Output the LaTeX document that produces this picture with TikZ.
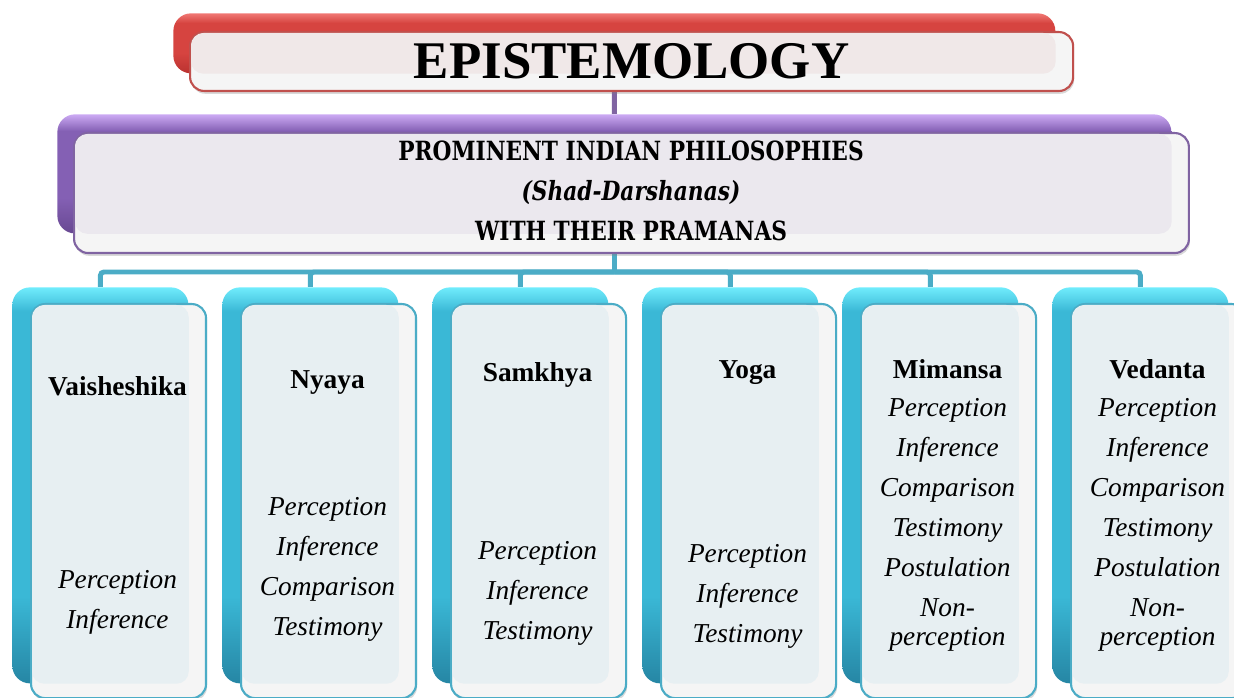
\documentclass[tikz,border=0pt]{standalone}
\usepackage{fontspec}
\setmainfont{Liberation Serif}
\newfontfamily\headfont[FakeStretch=0.82]{DejaVu Serif}
\usetikzlibrary{positioning, backgrounds, shadows}
\definecolor{redtop}{RGB}{240,120,116}
\definecolor{redbody}{RGB}{214,68,64}
\definecolor{redlow}{RGB}{186,50,48}
\definecolor{redline}{RGB}{192,80,77}
\definecolor{redin}{RGB}{240,232,232}
\definecolor{purtop}{RGB}{204,170,244}
\definecolor{purbody}{RGB}{132,96,180}
\definecolor{purlow}{RGB}{104,72,146}
\definecolor{purline}{RGB}{128,100,162}
\definecolor{purin}{RGB}{235,232,238}
\definecolor{teltop}{RGB}{112,236,252}
\definecolor{telbody}{RGB}{58,184,214}
\definecolor{tellow}{RGB}{38,134,164}
\definecolor{telline}{RGB}{75,172,198}
\definecolor{telin}{RGB}{231,239,242}
\definecolor{paleout}{RGB}{245,245,245}
\pgfdeclareverticalshading{redshade}{100bp}{color(0bp)=(redlow); color(25bp)=(redlow); color(42bp)=(redbody); color(67bp)=(redbody); color(75bp)=(redtop); color(100bp)=(redtop)}
\pgfdeclareverticalshading{purshade}{100bp}{color(0bp)=(purlow); color(25bp)=(purlow); color(40bp)=(purbody); color(68bp)=(purbody); color(75bp)=(purtop); color(100bp)=(purtop)}
\pgfdeclareverticalshading{telshade}{100bp}{color(0bp)=(tellow); color(25bp)=(tellow); color(36bp)=(telbody); color(72bp)=(telbody); color(75bp)=(teltop); color(100bp)=(teltop)}
\begin{document}
\begin{tikzpicture}[x=0.5669pt, y=-0.5669pt]
    \tikzset{
        back/.style={anchor=north west,inner sep=0pt,rounded corners=10pt},
        front/.style={anchor=north west,inner sep=0pt,rounded corners=8pt,line width=1.2pt,fill=paleout,
            drop shadow={opacity=.3,shadow xshift=.6pt,shadow yshift=-1.6pt}},
        %
        redback/.style={back,minimum width=500pt,minimum height=34pt,shading=redshade},
        redfront/.style={front,draw=redline,minimum width=500.6pt,minimum height=33.4pt},
        purback/.style={back,minimum width=631.5pt,minimum height=67.5pt,shading=purshade},
        purfront/.style={front,draw=purline,minimum width=632pt,minimum height=68pt},
        colback/.style={back,minimum width=99.8pt,minimum height=224.5pt,shading=telshade},
        colfront/.style={front,draw=telline,minimum width=99.2pt,minimum height=223.4pt},
        %
        gloss/.style={rounded corners=7pt},
        pline/.style={draw=purline,line width=2.8pt},
        tline/.style={draw=telline,line width=2.8pt,rounded corners=2pt},
        %
        ttl/.style={font=\fontsize{15.5}{22.7}\selectfont\bfseries},
        items/.style={align=center,inner sep=0pt,font=\fontsize{15.5}{22.7}\selectfont\itshape},
    }
    \useasboundingbox (0,0) rectangle (1234,698);

    % title
    \node[redback] (tb) at (173,13) {};
    \node[redfront] (tf) at (189,31) {};
    \fill[redin,gloss] ([shift={(2,2)}]tf.north west) rectangle (tb.south east);
    \node[font=\fontsize{30}{36}\selectfont\bfseries] (title) at (tf.center) {EPISTEMOLOGY};

    % header
    \node[purback] (hb) at (57,114) {};
    \node[purfront] (hf) at (73,132) {};
    \fill[purin,gloss] ([shift={(2,2)}]hf.north west) rectangle (hb.south east);
    \node[align=center,font=\headfont\bfseries\fontsize{15}{22.7}\selectfont] (head) at (631,191)
        {PROMINENT INDIAN PHILOSOPHIES\\{\itshape(Shad-Darshanas)}\\WITH THEIR PRAMANAS};

    % schools
    \node[colback] (c1) at (12,287) {};
    \node[colfront] (f1) at (30,303) {};
    \fill[telin,gloss] ([shift={(2,2)}]f1.north west) rectangle (c1.south east);
    \node[ttl] (t1) at (117.5,386) {Vaisheshika};
    \node[items] (l1) at (117.5,602) {Perception\\Inference};

    \node[colback] (c2) at (222,287) {};
    \node[colfront] (f2) at (240,303) {};
    \fill[telin,gloss] ([shift={(2,2)}]f2.north west) rectangle (c2.south east);
    \node[ttl] (t2) at (327.5,382) {Nyaya};
    \node[items] (l2) at (327.5,569) {Perception\\Inference\\Comparison\\Testimony};

    \node[colback] (c3) at (432,287) {};
    \node[colfront] (f3) at (450,303) {};
    \fill[telin,gloss] ([shift={(2,2)}]f3.north west) rectangle (c3.south east);
    \node[ttl] (t3) at (537.5,375) {Samkhya};
    \node[items] (l3) at (537.5,593.5) {Perception\\Inference\\Testimony};

    \node[colback] (c4) at (642,287) {};
    \node[colfront] (f4) at (660,303) {};
    \fill[telin,gloss] ([shift={(2,2)}]f4.north west) rectangle (c4.south east);
    \node[ttl] (t4) at (747.5,373) {Yoga};
    \node[items] (l4) at (747.5,596) {Perception\\Inference\\Testimony};

    \node[colback] (c5) at (842,287) {};
    \node[colfront] (f5) at (860,303) {};
    \fill[telin,gloss] ([shift={(2,2)}]f5.north west) rectangle (c5.south east);
    \node[ttl] (t5) at (947.5,369) {Mimansa};
    \node[items] (l5) at (947.5,525) {Perception\\Inference\\Comparison\\Testimony\\Postulation\\Non-\\[-6pt]perception};

    \node[colback] (c6) at (1052,287) {};
    \node[colfront] (f6) at (1070,303) {};
    \fill[telin,gloss] ([shift={(2,2)}]f6.north west) rectangle (c6.south east);
    \node[ttl] (t6) at (1157.5,369) {Vedanta};
    \node[items] (l6) at (1157.5,525) {Perception\\Inference\\Comparison\\Testimony\\Postulation\\Non-\\[-6pt]perception};

    % connectors
    \begin{scope}[on background layer]
        \coordinate (bus) at (hb.south |- 0,272);
        \draw[pline] (tb.south) -- (hb.north);
        \draw[tline] (hb.south) -- (bus);
        \draw[tline] (bus) -| (c1.north);
        \draw[tline] (bus) -| (c2.north);
        \draw[tline] (bus) -| (c3.north);
        \draw[tline] (bus) -| (c4.north);
        \draw[tline] (bus) -| (c5.north);
        \draw[tline] (bus) -| (c6.north);
    \end{scope}
\end{tikzpicture}
\end{document}
